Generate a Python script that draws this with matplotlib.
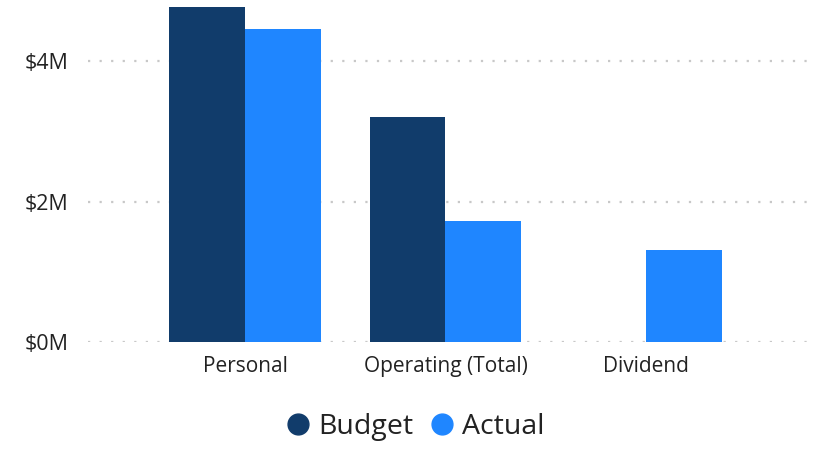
import numpy as np
import matplotlib.pyplot as plt
from matplotlib.lines import Line2D

# budget vs actual spend, in millions of dollars
categories = ["Personal", "Operating (Total)", "Dividend"]
budget = [4.77, 3.20, 0.0]
actual = [4.46, 1.72, 1.31]
y_ticks = [0, 2, 4]

budget_color = "#113C6B"
actual_color = "#1F86FF"

plt.rcParams['font.family'] = ['Open Sans', 'DejaVu Sans']

W, H = 816, 449
fig = plt.figure(figsize=(W / 100, H / 100), dpi=100)
ax = fig.add_axes([88 / W, (H - 342) / H, (810 - 88) / W, 342 / H])

x = np.arange(len(categories))
w = 0.379
ax.bar(x - w / 2, budget, w, color=budget_color, zorder=2)
ax.bar(x + w / 2, actual, w, color=actual_color, zorder=2)

ax.set_xlim(-0.783, 2.818)
ax.set_ylim(0, 4.87)
ax.set_yticks(y_ticks)
ax.set_yticklabels([f"${v}M" for v in y_ticks])
ax.set_xticks(x)
ax.set_xticklabels(categories)

ax.yaxis.grid(True, color="#c8c8c8", linestyle=(0, (1, 4.2)), linewidth=1.6, zorder=0)
ax.set_axisbelow(True)
for s in ax.spines.values():
    s.set_visible(False)
ax.tick_params(axis="both", length=0, colors="#222222")
ax.tick_params(axis="y", pad=14, labelsize=15.5)
ax.tick_params(axis="x", pad=10, labelsize=15)

handles = [Line2D([], [], marker="o", linestyle="", markersize=15, color=budget_color),
           Line2D([], [], marker="o", linestyle="", markersize=15, color=actual_color)]
fig.legend(handles, ["Budget", "Actual"], loc="center", bbox_to_anchor=(414 / W, 1 - 427 / H),
           ncol=2, frameon=False, fontsize=20.5, handletextpad=0.2, columnspacing=0.5,
           handlelength=1.0, labelcolor="#222222")

fig.savefig("out.png", dpi=100)
